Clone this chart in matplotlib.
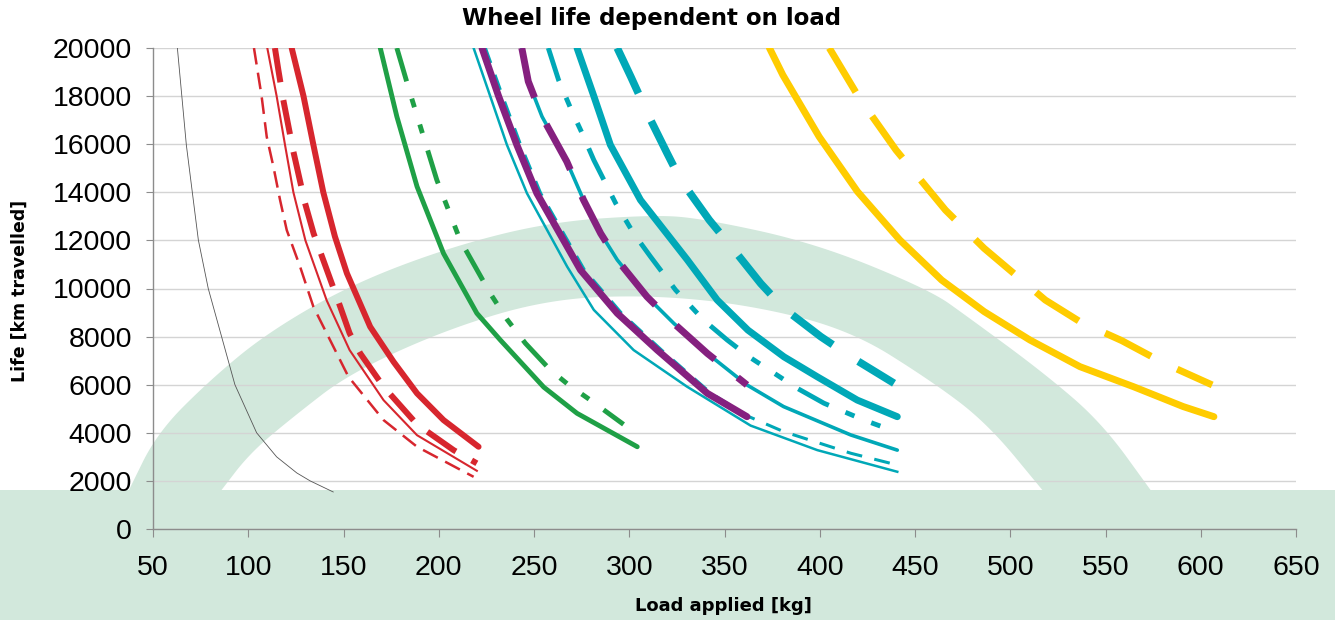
import matplotlib
matplotlib.use("Agg")
import matplotlib.pyplot as plt
import numpy as np
from matplotlib.patches import Polygon, Rectangle

plt.rcParams['font.family'] = ['Liberation Sans', 'DejaVu Sans']
plt.rcParams['lines.scale_dashes'] = False

# values: load [kg] -> life [km]
grey_load = [62.8, 67.5, 73.8, 79, 86, 93, 104.4, 114.9, 125.5, 132.5, 144.6]
grey_life = [20000, 15970, 12020, 10000, 8000, 6000, 4000, 3000, 2330, 2000, 1540]

red_thin_dash_load = [103, 107, 109.7, 113.2, 116.7, 120.2, 127.2, 134.2, 152.6, 171, 188.6, 218.3]
red_thin_dash_life = [20000, 18000, 16310, 15070, 13680, 12430, 10910, 9240, 6330, 4530, 3420, 2170]

red_thin_load = [110, 114.9, 119.3, 123.7, 130, 141.2, 153.2, 171, 188.6, 220]
red_thin_life = [20000, 18000, 15970, 14000, 12000, 9500, 7440, 5360, 3900, 2420]

red_dash_load = [114, 115.8, 118.4, 123.7, 129.8, 134.3, 148.3, 153.2, 158.8, 171, 188.6, 207.8, 220]
red_dash_life = [20000, 19090, 17840, 15690, 13550, 12290, 9240, 8140, 7300, 5920, 4350, 3280, 2730]

red_load = [122.8, 129, 134.2, 139.4, 145.5, 151.8, 164, 176.3, 188.6, 202.5, 220.9]
red_life = [20000, 18000, 15970, 14000, 12160, 10630, 8410, 6950, 5640, 4530, 3420]

green_load = [169.3, 178, 188.6, 202.5, 220, 232.3, 255.1, 272.6, 304.2]
green_life = [20000, 17150, 14240, 11460, 8970, 7860, 5900, 4810, 3420]

green_dd_load = [178, 185, 199, 211.2, 227, 235.8, 245.5, 258.6, 268.2, 279.6, 297]
green_dd_life = [20000, 18110, 14510, 12020, 9800, 8720, 7720, 6610, 5990, 5360, 4350]

cyan_thin_load = [218.3, 227, 235.8, 246.3, 267.4, 281.4, 302.3, 330.3, 363.7, 398.7, 440.7]
cyan_thin_life = [20000, 18000, 15970, 13960, 10910, 9110, 7440, 5920, 4300, 3280, 2380]

cyan_thin_dash_load = [224.5, 233.5, 243, 253.5, 276.5, 296, 317, 343, 362, 381, 416.3, 440.7]
cyan_thin_dash_life = [20000, 18000, 15970, 13960, 10770, 8970, 7440, 5640, 4700, 4050, 3150, 2660]

purple_load = [222.7, 231.4, 241, 251.5, 274.4, 293.7, 314.7, 341, 361.8]
purple_life = [20000, 18000, 15970, 13960, 10770, 8970, 7440, 5640, 4670]

cyan_mid_load = [243.6, 247, 254.2, 267.2, 276, 285, 293.7, 309.3, 323.4, 341, 361.8, 381, 416.3, 440.7]
cyan_mid_life = [20000, 18610, 17150, 15280, 13680, 12290, 11190, 9660, 8550, 7300, 5990, 5090, 3910, 3280]

purple_dash_load = [243.6, 247, 254.2, 267.2, 276, 285, 293.7, 309.3, 323.4, 341, 361.8]
purple_dash_life = [20000, 18610, 17150, 15280, 13680, 12290, 11190, 9660, 8550, 7300, 5990]

cyan_dd_load = [257.5, 262.9, 270, 275.3, 281.4, 292.9, 302.3, 311.2, 324.3, 339, 351.4, 362.9, 388.2, 402.2, 423.2, 440.4]
cyan_dd_life = [20000, 18670, 17350, 16450, 15340, 13540, 12290, 11320, 9940, 8690, 7860, 7160, 5850, 5230, 4530, 4030]

cyan_thick_load = [272.6, 281.4, 290.1, 305.9, 330.5, 346.2, 362.3, 381.2, 398.7, 419.7, 440.7]
cyan_thick_life = [20000, 18000, 15970, 13680, 11190, 9520, 8270, 7160, 6330, 5360, 4670]

cyan_thick_dash_load = [293.7, 300.8, 311.2, 319.9, 327, 342, 355, 369, 381.2, 400.5, 416.3, 439]
cyan_thick_dash_life = [20000, 18810, 17010, 15620, 14510, 12850, 11600, 10210, 9170, 8000, 7160, 6060]

yellow_load = [373.6, 380.6, 399.7, 419.8, 442, 464, 486.3, 510.3, 536.6, 564.6, 590.8, 606.9]
yellow_life = [20000, 18880, 16310, 14030, 12020, 10350, 9040, 7860, 6750, 5920, 5090, 4670]

yellow_dash_load = [405, 420.9, 440, 466, 486.3, 518.4, 536.6, 558.6, 580.8, 606]
yellow_dash_life = [20000, 17900, 15760, 13260, 11670, 9520, 8620, 7830, 6890, 5990]

x_ticks = list(range(50, 651, 50))
y_ticks = list(range(0, 20001, 2000))

RED = '#d7262e'
GREEN = '#1fa046'
CYAN = '#00a8b7'
PURPLE = '#85207f'
YELLOW = '#ffcc00'
WM = '#d2e8dc'

W, H = 1335, 620


def chaikin(pts, n=4):
    # corner cutting, keeps the two end points
    pts = np.array(pts, dtype=float)
    for _ in range(n):
        q = 0.75 * pts[:-1] + 0.25 * pts[1:]
        r = 0.25 * pts[:-1] + 0.75 * pts[1:]
        mid = np.empty((len(q) * 2, 2))
        mid[0::2] = q
        mid[1::2] = r
        pts = np.vstack([pts[:1], mid, pts[-1:]])
    return pts


fig = plt.figure(figsize=(W / 100, H / 100), dpi=100)
fig.patch.set_facecolor('white')

# pale green watermark behind the plot
outer = [(128, 492), (157, 433), (210, 380), (267, 333), (350, 285), (450, 247), (550, 222),
         (650, 215), (700, 218), (815, 243), (930, 290), (968, 317), (1044, 373), (1102, 423), (1152, 492)]
inner = [(1044, 492), (987, 423), (930, 380), (850, 330), (750, 305), (650, 295), (550, 299),
         (450, 328), (350, 373), (293, 417), (250, 453), (220, 492)]
arch = np.vstack([chaikin(outer), chaikin(inner)])
arch = [(x / W, 1 - y / H) for x, y in arch]
fig.add_artist(Polygon(arch, closed=True, facecolor=WM, edgecolor='none', transform=fig.transFigure, zorder=0))
fig.add_artist(Rectangle((0, 0), 1, 130 / H, facecolor=WM, edgecolor='none', transform=fig.transFigure, zorder=0))

ax = fig.add_axes([153 / W, 1 - 529 / H, (1296 - 153) / W, (529 - 48) / H])
ax.set_facecolor('none')
ax.set_zorder(1)

ax.plot(grey_load, grey_life, color='#555555', lw=0.6)

ax.plot(red_thin_dash_load, red_thin_dash_life, color=RED, lw=1.8, dashes=(12, 6))
ax.plot(red_thin_load, red_thin_life, color=RED, lw=1.5)
ax.plot(red_dash_load, red_dash_life, color=RED, lw=4.3, dashes=(25, 13))
ax.plot(red_load, red_life, color=RED, lw=4.3, solid_capstyle='round')

ax.plot(green_load, green_life, color=GREEN, lw=3.5, solid_capstyle='round')
ax.plot(green_dd_load, green_dd_life, color=GREEN, lw=3.5, dashes=(25, 13, 6.5, 13, 6.5, 13))

ax.plot(cyan_thin_load, cyan_thin_life, color=CYAN, lw=1.8)
ax.plot(cyan_thin_dash_load, cyan_thin_dash_life, color=CYAN, lw=2.2, dashes=(11.5, 9))
ax.plot(purple_load, purple_life, color=PURPLE, lw=5, solid_capstyle='round')
ax.plot(cyan_mid_load, cyan_mid_life, color=CYAN, lw=2.6, solid_capstyle='round')
ax.plot(purple_dash_load, purple_dash_life, color=PURPLE, lw=5, dashes=(37, 21))
ax.plot(cyan_dd_load, cyan_dd_life, color=CYAN, lw=3.5, dashes=(25, 13, 7, 13, 7, 13))
ax.plot(cyan_thick_load, cyan_thick_life, color=CYAN, lw=5, solid_capstyle='round')
ax.plot(cyan_thick_dash_load, cyan_thick_dash_life, color=CYAN, lw=5.5, dashes=(36, 22))

ax.plot(yellow_load, yellow_life, color=YELLOW, lw=5, solid_capstyle='round')
ax.plot(yellow_dash_load, yellow_dash_life, color=YELLOW, lw=5, dashes=(37, 21))

ax.set_xlim(50, 650)
ax.set_ylim(0, 20000)
ax.set_xticks(x_ticks)
ax.set_yticks(y_ticks)
ax.set_xticklabels([str(v) for v in x_ticks])
ax.set_yticklabels([str(v) for v in y_ticks])
ax.grid(axis='y', color='#d4d4d4', lw=1)
ax.set_axisbelow(True)
for s in ['top', 'right']:
    ax.spines[s].set_visible(False)
for s in ['left', 'bottom']:
    ax.spines[s].set_color('#8c8c8c')
    ax.spines[s].set_linewidth(1)
ax.tick_params(axis='x', direction='out', length=6, pad=13, labelsize=20.5, color='#8c8c8c')
ax.tick_params(axis='y', direction='out', length=5, pad=10, labelsize=20.5, color='#8c8c8c')

fig.text(652 / W, 1 - 18 / H, 'Wheel life dependent on load', ha='center', va='center',
         fontsize=16.5, fontweight='bold', family='DejaVu Sans')
fig.text(20 / W, 1 - 291 / H, 'Life [km travelled]', ha='center', va='center', rotation=90,
         fontsize=12.5, fontweight='bold', family='DejaVu Sans')
fig.text(723 / W, 1 - 606 / H, 'Load applied [kg]', ha='center', va='center',
         fontsize=13, fontweight='bold', family='DejaVu Sans')

fig.savefig('out.png', dpi=100)
